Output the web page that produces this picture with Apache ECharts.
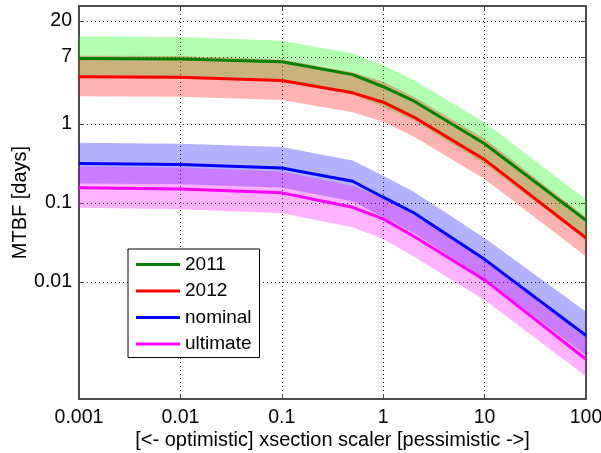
<!DOCTYPE html>
<html>
<head>
<meta charset="utf-8">
<script src="https://cdn.jsdelivr.net/npm/echarts@6/dist/echarts.min.js"></script>
<style>
  html, body { margin: 0; padding: 0; background: #fff; }
  #chart { width: 601px; height: 453px; }
</style>
</head>
<body>
<div id="chart"></div>
<script>
// x positions (xsection scaler)
var xs = [0.001, 0.01, 0.1, 0.5, 1, 2, 10, 100];

// 2011
var line2011 = [6.7, 6.6, 6.1, 4.2, 2.95, 1.95, 0.56, 0.06];
var up2011   = [12.8, 12.6, 11.3, 7.8, 5.5, 3.6, 1.05, 0.11];
var lo2011   = [3.8, 3.7, 3.4, 2.35, 1.65, 1.1, 0.31, 0.034];

// 2012
var line2012 = [3.94, 3.89, 3.54, 2.47, 1.88, 1.22, 0.353, 0.036];
var up2012   = [7.3, 7.2, 6.5, 4.5, 3.4, 2.2, 0.65, 0.066];
var lo2012   = [2.24, 2.2, 2.0, 1.4, 1.06, 0.69, 0.2, 0.021];

// nominal
var lineNom = [0.314, 0.306, 0.277, 0.188, 0.118, 0.075, 0.0193, 0.0021];
var upNom   = [0.575, 0.56, 0.51, 0.345, 0.22, 0.138, 0.036, 0.0042];
var loNom   = [0.176, 0.172, 0.155, 0.105, 0.066, 0.042, 0.0108, 0.00118];

// ultimate
var lineUlt = [0.156, 0.150, 0.134, 0.088, 0.0627, 0.0378, 0.0106, 0.00105];
var upUlt   = [0.29, 0.28, 0.25, 0.163, 0.116, 0.07, 0.0196, 0.00194];
var loUlt   = [0.0865, 0.083, 0.074, 0.049, 0.035, 0.021, 0.0059, 0.00064];

var yTicks = [0.01, 0.1, 1, 7, 20];

var FONT = 'Liberation Sans, Arial, sans-serif';

function fmt(v) {
    return String(parseFloat(Number(v).toPrecision(4)));
}

function pairs(ys) {
    return xs.map(function (x, i) { return [x, ys[i]]; });
}

// shaded uncertainty band, polygon upper -> lower through the axis scales
function band(name, upper, lower, color) {
    return {
        type: 'custom',
        name: name,
        silent: true,
        clip: true,
        data: [[xs[0], upper[0]]],
        renderItem: function (params, api) {
            var pts = [];
            for (var i = 0; i < xs.length; i++) pts.push(api.coord([xs[i], upper[i]]));
            for (var j = xs.length - 1; j >= 0; j--) pts.push(api.coord([xs[j], lower[j]]));
            return {
                type: 'polygon',
                shape: { points: pts },
                style: { fill: color }
            };
        }
    };
}

function line(name, ys, color) {
    return {
        type: 'line',
        name: name,
        data: pairs(ys),
        symbol: 'none',
        lineStyle: { color: color, width: 3 },
        itemStyle: { color: color },
        z: 5
    };
}

var gridLine = { show: true, lineStyle: { color: '#222', width: 1, type: [1, 3] } };
var frame = { show: true, lineStyle: { color: '#4d4d4d', width: 2 } };
var ticks = { show: true, inside: true, length: 5, lineStyle: { color: '#4d4d4d' } };

var chart = echarts.init(document.getElementById('chart'));
var option = {
    animation: false,
    backgroundColor: '#fff',
    grid: { left: 79, right: 15, top: 6, bottom: 54, outerBoundsMode: 'none', containLabel: false },
    legend: {
        orient: 'vertical',
        left: 128,
        top: 249,
        data: ['2011', '2012', 'nominal', 'ultimate'],
        icon: 'rect',
        backgroundColor: '#fff',
        borderColor: '#000',
        borderWidth: 1,
        borderRadius: 0,
        padding: [6, 8, 4, 8],
        itemWidth: 44,
        itemHeight: 3,
        itemGap: 7.5,
        textStyle: { fontFamily: FONT, fontSize: 19, color: '#000', lineHeight: 19 }
    },
    xAxis: [{
        type: 'log',
        min: 0.001,
        max: 100,
        name: '[<- optimistic] xsection scaler [pessimistic ->]',
        nameLocation: 'middle',
        nameGap: 31,
        nameMoveOverlap: false,
        nameTextStyle: { fontFamily: FONT, fontSize: 20, color: '#000' },
        axisLine: frame,
        axisTick: ticks,
        splitLine: gridLine,
        axisLabel: { fontFamily: FONT, fontSize: 19.5, color: '#000', margin: 9, formatter: fmt }
    }, {
        type: 'log',
        position: 'top',
        min: 0.001,
        max: 100,
        axisLine: frame,
        axisTick: ticks,
        splitLine: { show: false },
        axisLabel: { show: false }
    }],
    yAxis: [{
        type: 'log',
        min: 0.00033,
        max: 31,
        name: 'MTBF [days]',
        nameLocation: 'middle',
        nameGap: 49,
        nameMoveOverlap: false,
        nameTextStyle: { fontFamily: FONT, fontSize: 20, color: '#000' },
        axisLine: frame,
        axisTick: { show: true, inside: true, length: 5, lineStyle: { color: '#4d4d4d' }, customValues: yTicks },
        splitLine: gridLine,
        axisLabel: { fontFamily: FONT, fontSize: 19.5, color: '#000', margin: 7, formatter: fmt, customValues: yTicks }
    }, {
        type: 'log',
        position: 'right',
        min: 0.00033,
        max: 31,
        axisLine: frame,
        axisTick: { show: true, inside: true, length: 5, lineStyle: { color: '#4d4d4d' }, customValues: yTicks },
        splitLine: { show: false },
        axisLabel: { show: false, customValues: yTicks }
    }],
    series: [
        band('band2011', up2011, lo2011, 'rgba(0,255,0,0.3)'),
        band('band2012', up2012, lo2012, 'rgba(255,0,0,0.3)'),
        band('bandNom', upNom, loNom, 'rgba(0,0,255,0.3)'),
        band('bandUlt', upUlt, loUlt, 'rgba(255,0,255,0.3)'),
        line('2011', line2011, '#008000'),
        line('2012', line2012, '#ff0000'),
        line('nominal', lineNom, '#0000ff'),
        line('ultimate', lineUlt, '#ff00ff')
    ]
};
chart.setOption(option);
</script>
</body>
</html>
